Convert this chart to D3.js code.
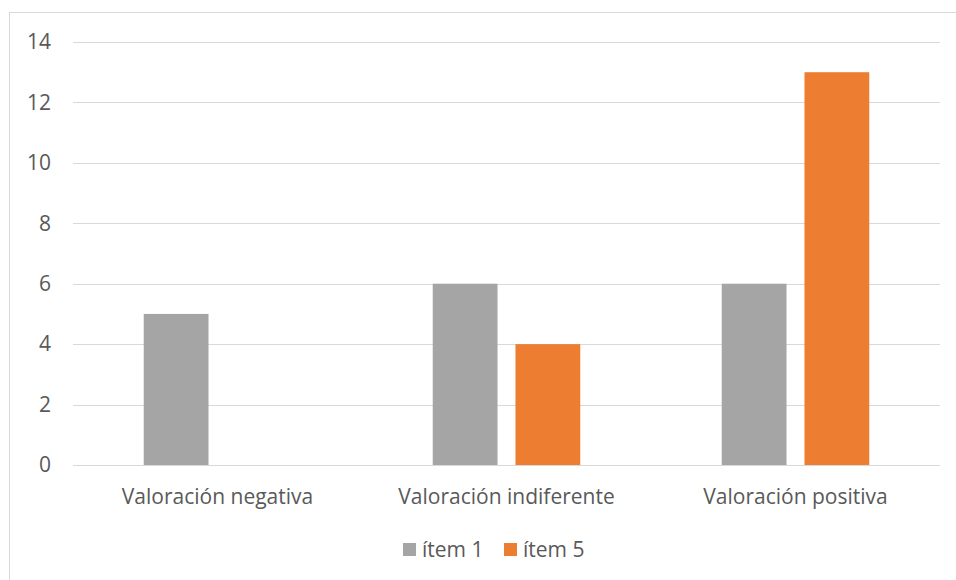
<!DOCTYPE html>
<html><head><meta charset="utf-8">
<script src="https://cdn.jsdelivr.net/npm/d3@7"></script>
<style>body{margin:0;background:#fff}svg{display:block}text{font-family:"Open Sans",sans-serif;fill:#595959}</style>
</head><body>
<svg id="chart" width="956" height="580"></svg>
<script>
const categories = ["Valoración negativa", "Valoración indiferente", "Valoración positiva"];
const seriesNames = ["ítem 1", "ítem 5"];
const item1 = [5, 6, 6];
const item5 = [0, 4, 13];
const yTicks = [0, 2, 4, 6, 8, 10, 12, 14];
const colors = ["#a5a5a5", "#ed7d31"];
const FS = 21;

const svg = d3.select("#chart");
// chart frame
svg.append("rect").attr("x", 9.5).attr("y", 12.5).attr("width", 960).attr("height", 600)
  .attr("fill", "none").attr("stroke", "#d9d9d9");

const x = d3.scaleBand().domain(categories).range([73, 940]);
const xs = d3.scaleBand().domain(seriesNames).range([0, x.bandwidth()]).paddingInner(0.217).paddingOuter(0.855);
const y = d3.scaleLinear().domain([0, 14]).range([465, 42]);

// gridlines
svg.append("g").selectAll("line").data(yTicks).join("line")
  .attr("x1", 73).attr("x2", 940).attr("y1", d => Math.round(y(d)) + 0.5).attr("y2", d => Math.round(y(d)) + 0.5)
  .attr("stroke", "#d9d9d9").attr("stroke-width", 1);

// y axis labels
const yAxis = d3.axisLeft(y).tickValues(yTicks).tickSize(0).tickPadding(0);
const gy = svg.append("g").attr("transform", "translate(51,0)").call(yAxis)
  .attr("font-size", FS).attr("font-family", "Open Sans, sans-serif");
gy.select(".domain").remove();
gy.selectAll("text").attr("fill", "#595959");

// bars
const rows = categories.map((c, i) => ({c, vals: [item1[i], item5[i]]}));
const g = svg.append("g").selectAll("g").data(rows).join("g")
  .attr("transform", d => `translate(${x(d.c)},0)`);
g.selectAll("rect").data(d => d.vals.map((v, j) => ({v, s: seriesNames[j], j}))).join("rect")
  .attr("x", d => xs(d.s)).attr("width", xs.bandwidth())
  .attr("y", d => y(d.v)).attr("height", d => y(0) - y(d.v))
  .attr("fill", d => colors[d.j]);

// x axis labels
const xAxis = d3.axisBottom(x).tickSize(0).tickPadding(0);
const gx = svg.append("g").attr("transform", "translate(0,489)").call(xAxis)
  .attr("font-size", FS).attr("font-family", "Open Sans, sans-serif");
gx.select(".domain").remove();
gx.selectAll("text").attr("fill", "#595959").attr("dy", "0.71em");

// legend
const legend = svg.append("g").attr("transform", "translate(403,543)");
const lx = [0, 101];
seriesNames.forEach((s, i) => {
  const lg = legend.append("g").attr("transform", `translate(${lx[i]},0)`);
  lg.append("rect").attr("width", 13).attr("height", 13).attr("fill", colors[i]);
  lg.append("text").attr("x", 19).attr("y", 7).attr("dy", "0.35em").attr("font-size", FS).text(s);
});
</script>
</body></html>
